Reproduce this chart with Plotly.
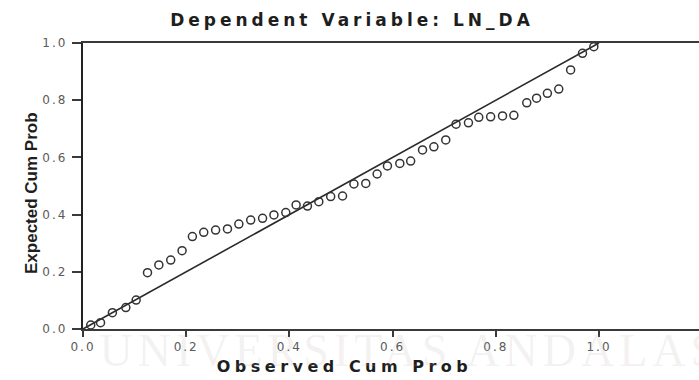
import plotly.graph_objects as go

# ---- data (Normal P-P plot of regression residuals) ----
observed_cum_prob = [0.015, 0.034, 0.057, 0.083, 0.103, 0.125, 0.147, 0.170, 0.192, 0.212,
                     0.234, 0.257, 0.280, 0.302, 0.325, 0.348, 0.370, 0.393, 0.413, 0.435,
                     0.457, 0.480, 0.503, 0.525, 0.548, 0.570, 0.590, 0.614, 0.635, 0.658,
                     0.680, 0.703, 0.723, 0.747, 0.767, 0.790, 0.813, 0.835, 0.860, 0.879,
                     0.900, 0.922, 0.945, 0.968, 0.990]
expected_cum_prob = [0.014, 0.022, 0.057, 0.075, 0.101, 0.197, 0.224, 0.241, 0.274, 0.323,
                     0.338, 0.346, 0.350, 0.367, 0.381, 0.387, 0.399, 0.407, 0.434, 0.430,
                     0.445, 0.463, 0.465, 0.507, 0.509, 0.542, 0.570, 0.579, 0.587, 0.626,
                     0.637, 0.661, 0.716, 0.721, 0.740, 0.742, 0.745, 0.747, 0.791, 0.807,
                     0.824, 0.839, 0.906, 0.964, 0.987]
ref_line_x = [0.0, 1.0]
ref_line_y = [0.0, 1.0]
tick_values = [0.0, 0.2, 0.4, 0.6, 0.8, 1.0]
tick_labels = ["0.0", "0.2", "0.4", "0.6", "0.8", "1.0"]

title_text = "Dependent Variable: LN_DA"
x_title = "Observed Cum Prob"
y_title = "Expected Cum Prob"
watermark = "UNIVERSITAS ANDALAS"

# ---- geometry ----
W, H = 699, 380
L, R, T, B = 83, 0, 43, 51
plot_w = W - L - R
plot_h = H - T - B
px_per_unit = 516.0
x_max = plot_w / px_per_unit

def px_to_paper_x(px):
    return (px - L) / plot_w

def px_to_paper_y(py):
    return (H - B - py) / plot_h

fig = go.Figure()

fig.add_trace(go.Scatter(
    x=ref_line_x, y=ref_line_y, mode="lines",
    line=dict(color="#2a2a2a", width=1.6),
    hoverinfo="skip", showlegend=False, cliponaxis=False,
))
fig.add_trace(go.Scatter(
    x=observed_cum_prob, y=expected_cum_prob, mode="markers",
    marker=dict(symbol="circle-open", size=8, color="#333333",
                line=dict(width=1.5, color="#333333")),
    showlegend=False, cliponaxis=False,
))

tick_font = dict(family="DejaVu Sans", size=12, color="#5a5a5a")

fig.update_layout(
    width=W, height=H,
    margin=dict(l=L, r=R, t=T, b=B, pad=0),
    paper_bgcolor="white", plot_bgcolor="white",
    showlegend=False,
    title=dict(text=title_text, x=px_to_paper_x(352), xref="paper", xanchor="center",
               y=1 - 20 / H, yref="container", yanchor="middle",
               font=dict(family="DejaVu Sans", size=17, color="#1e1e1e", weight="bold")),
    xaxis=dict(range=[0, x_max], tickvals=tick_values, ticktext=tick_labels,
               showgrid=False, zeroline=False,
               showline=True, linecolor="#3a3a3a", linewidth=1.5, mirror=True,
               ticks="outside", ticklen=6, tickwidth=1.5, tickcolor="#3a3a3a",
               tickfont=tick_font, fixedrange=True),
    yaxis=dict(range=[0, 1], tickvals=tick_values, ticktext=tick_labels,
               showgrid=False, zeroline=False,
               showline=True, linecolor="#222222", linewidth=2.4, mirror=False,
               ticks="outside", ticklen=9, tickwidth=1.5, tickcolor="#3a3a3a",
               ticklabelstandoff=2,
               tickfont=tick_font, fixedrange=True),
    annotations=[
        dict(text=x_title, xref="paper", yref="paper",
             x=px_to_paper_x(344), y=px_to_paper_y(366),
             xanchor="center", yanchor="middle", showarrow=False,
             font=dict(family="DejaVu Sans", size=16, color="#1e1e1e", weight="bold")),
        dict(text=y_title, xref="paper", yref="paper",
             x=px_to_paper_x(31), y=px_to_paper_y(193), textangle=-90,
             xanchor="center", yanchor="middle", showarrow=False,
             font=dict(family="Liberation Sans", size=17, color="#1e1e1e", weight="bold")),
        dict(text=watermark, xref="paper", yref="paper",
             x=px_to_paper_x(410), y=px_to_paper_y(350),
             xanchor="center", yanchor="middle", showarrow=False,
             font=dict(family="Liberation Serif", size=46, color="rgba(190,170,170,0.16)")),
    ],
)

post = """
document.body.style.margin = '0';
document.body.style.padding = '0';
var gd = document.getElementById('{plot_id}');
function sp(sel, v){ gd.querySelectorAll(sel).forEach(function(e){ e.style.letterSpacing = v; }); }
sp('.gtitle', '4px');
sp('.annotation[data-index="0"] text', '4.5px');
sp('.annotation[data-index="2"] text', '5px');
sp('.xtick text', '2px');
sp('.ytick text', '2px');
"""

fig.write_html("out.html", post_script=post, config={"displayModeBar": False})
